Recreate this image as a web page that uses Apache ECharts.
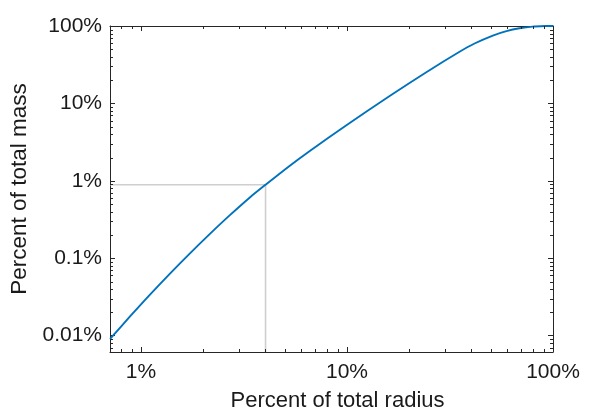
<!DOCTYPE html>
<html>
<head>
<meta charset="utf-8">
<script src="https://cdn.jsdelivr.net/npm/echarts@6/dist/echarts.min.js"></script>
<style>
html,body{margin:0;padding:0;background:#fff;}
#chart{width:593px;height:417px;}
</style>
</head>
<body>
<div id="chart"></div>
<script>
// Percent of total radius (x) and percent of total mass (y)
const radiusPct = [0.7075, 0.8843, 1.1055, 1.3823, 1.7283, 2.1604, 2.7006, 3.3758, 4.023, 5.2767, 6.5963, 9.933, 16.108, 24.267, 35.18, 41.59, 51.03, 59.44, 68.74, 79.47, 92.59, 100];
const massPct   = [0.009081, 0.01769, 0.03388, 0.06335, 0.11574, 0.2065, 0.3601, 0.6099, 0.8895, 1.569, 2.4339, 5.224, 12.452, 25.28, 46.46, 59.39, 75.28, 85.89, 93.5, 98.26, 99.86, 100];

// Reference marker (gray guide lines)
const markerRadius = 4.023;
const markerMass = 0.8895;

// Axis ranges
const xRange = [0.707, 100];
const yRange = [0.00615, 100];

// Minor tick values
const xMinor = [0.8, 0.9, 2, 3, 4, 5, 6, 7, 8, 9, 20, 30, 40, 50, 60, 70, 80, 90];
const yMinor = [0.007, 0.008, 0.009, 0.02, 0.03, 0.04, 0.05, 0.06, 0.07, 0.08, 0.09,
                0.2, 0.3, 0.4, 0.5, 0.6, 0.7, 0.8, 0.9, 2, 3, 4, 5, 6, 7, 8, 9,
                20, 30, 40, 50, 60, 70, 80, 90];

const axisColor = '#262626';
const FONT = '"Liberation Sans", Arial, Helvetica, sans-serif';

const chart = echarts.init(document.getElementById('chart'), null, {renderer: 'canvas'});

function fmt(v) {
  const s = +v.toPrecision(3);
  return s + '%';
}

function baseAxis(extra) {
  return Object.assign({
    type: 'log',
    logBase: 10,
    axisLine: {show: true, lineStyle: {color: axisColor, width: 1}},
    axisTick: {show: true, inside: true, length: 5, lineStyle: {color: axisColor, width: 1}},
    splitLine: {show: false},
    minorTick: {show: false},
    minorSplitLine: {show: false}
  }, extra);
}

const minorTickStyle = {stroke: axisColor, lineWidth: 1};

const option = {
  animation: false,
  backgroundColor: '#fff',
  grid: {left: 110, top: 26, width: 443, height: 331, containLabel: false},
  xAxis: [
    baseAxis({
      position: 'bottom', min: xRange[0], max: xRange[1],
      name: 'Percent of total radius', nameLocation: 'middle', nameGap: 38,
      nameTextStyle: {fontFamily: FONT, fontSize: 22, color: '#1a1a1a', padding: [0, 0, 0, 12]},
      axisLabel: {show: true, showMinLabel: false, margin: 10, formatter: fmt,
        fontFamily: FONT, fontSize: 21, color: '#1a1a1a'}
    }),
    baseAxis({
      position: 'top', min: xRange[0], max: xRange[1], axisLabel: {show: false}
    })
  ],
  yAxis: [
    baseAxis({
      position: 'left', min: yRange[0], max: yRange[1],
      name: 'Percent of total mass', nameLocation: 'middle', nameGap: 66, nameRotate: 90,
      nameTextStyle: {fontFamily: FONT, fontSize: 22.5, color: '#1a1a1a'},
      axisLabel: {show: true, showMinLabel: false, margin: 8, formatter: fmt,
        fontFamily: FONT, fontSize: 21, color: '#1a1a1a'}
    }),
    baseAxis({
      position: 'right', min: yRange[0], max: yRange[1], axisLabel: {show: false}
    })
  ],
  series: [
    {
      type: 'line',
      data: [[markerRadius, yRange[0]], [markerRadius, markerMass], [xRange[0], markerMass]],
      showSymbol: false, symbol: 'none', silent: true,
      lineStyle: {color: '#cfcfcf', width: 1.6},
      z: 2
    },
    {
      type: 'line',
      data: radiusPct.map((r, i) => [r, massPct[i]]),
      smooth: 0.25, showSymbol: false, symbol: 'none', silent: true,
      lineStyle: {color: '#0072BD', width: 1.9},
      clip: true,
      z: 3
    },
    {
      type: 'custom', silent: true, clip: false, z: 4,
      data: xMinor.map(v => [v, yRange[0]]),
      renderItem: function (params, api) {
        const b = api.coord([api.value(0), yRange[0]]);
        const t = api.coord([api.value(0), yRange[1]]);
        const x = Math.round(b[0]) + 0.5;
        return {type: 'group', children: [
          {type: 'line', shape: {x1: x, y1: b[1], x2: x, y2: b[1] - 3}, style: minorTickStyle},
          {type: 'line', shape: {x1: x, y1: t[1], x2: x, y2: t[1] + 3}, style: minorTickStyle}
        ]};
      }
    },
    {
      type: 'custom', silent: true, clip: false, z: 4,
      data: yMinor.map(v => [xRange[0], v]),
      renderItem: function (params, api) {
        const l = api.coord([xRange[0], api.value(1)]);
        const r = api.coord([xRange[1], api.value(1)]);
        const y = Math.round(l[1]) + 0.5;
        return {type: 'group', children: [
          {type: 'line', shape: {x1: l[0], y1: y, x2: l[0] + 3, y2: y}, style: minorTickStyle},
          {type: 'line', shape: {x1: r[0], y1: y, x2: r[0] - 3, y2: y}, style: minorTickStyle}
        ]};
      }
    }
  ]
};

chart.setOption(option);
</script>
</body>
</html>
